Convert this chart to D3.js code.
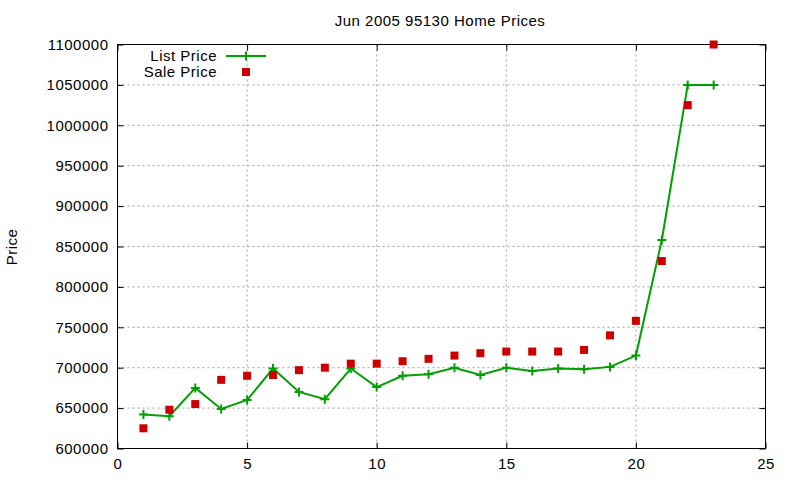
<!DOCTYPE html>
<html>
<head>
<meta charset="utf-8">
<script src="https://cdn.jsdelivr.net/npm/d3@7"></script>
<style>
  body { margin: 0; background: #fff; }
  svg text { font-family: "Liberation Sans", Arial, sans-serif; font-size: 15px; letter-spacing: 0.5px; fill: #000; }
  .grid line { stroke: #a0a0a0; stroke-dasharray: 2,3; stroke-width: 1; }
</style>
</head>
<body>
<svg id="chart" width="800" height="480"></svg>
<script>
const months = d3.range(1, 24)
const listPrice = [642000, 640000, 675000, 649000, 660000, 699000, 670000, 661000, 699000, 676000,
  690000, 692000, 700000, 691000, 700000, 696000, 699000, 698000, 701000, 715000,
  858000, 1050000, 1050000]
const salePrice = [625000, 648000, 655000, 685000, 690000, 691000, 697000, 700000, 705000, 705000,
  708000, 711000, 715000, 718000, 720000, 720000, 720000, 722000, 740000, 758000,
  832000, 1025000, 1100000]
const xTicks = [0, 5, 10, 15, 20, 25]
const yTicks = d3.range(600000, 1100001, 50000)

const svg = d3.select('#chart')
const pLeft = 117.5, pRight = 765.5, pTop = 44.5, pBottom = 448.5

const x = d3.scaleLinear().domain([0, 25]).range([pLeft, pRight])
const y = d3.scaleLinear().domain([600000, 1100000]).range([pBottom, pTop])

const green = '#00a000', red = '#cc0000'

// grid
const grid = svg.append('g').attr('class', 'grid')
grid.selectAll('.gx').data(xTicks.slice(1, -1)).enter().append('line')
  .attr('x1', d => x(d)).attr('x2', d => x(d)).attr('y1', pTop).attr('y2', pBottom)
grid.selectAll('.gy').data(yTicks.slice(1, -1)).enter().append('line')
  .attr('x1', pLeft).attr('x2', pRight).attr('y1', d => y(d)).attr('y2', d => y(d))

// axes, gnuplot style with inward ticks on all sides
const tk = 6
svg.append('g').attr('transform', `translate(0,${pBottom})`)
  .call(d3.axisBottom(x).tickValues(xTicks).tickSize(-tk).tickPadding(10))
svg.append('g').attr('transform', `translate(0,${pTop})`)
  .call(d3.axisTop(x).tickValues(xTicks).tickSize(-tk).tickFormat(''))
svg.append('g').attr('transform', `translate(${pLeft},0)`)
  .call(d3.axisLeft(y).tickValues(yTicks).tickSize(-tk).tickPadding(9).tickFormat(d3.format('d')))
svg.append('g').attr('transform', `translate(${pRight},0)`)
  .call(d3.axisRight(y).tickValues(yTicks).tickSize(-tk).tickFormat(''))
svg.selectAll('.domain').remove()
svg.selectAll('.tick line').attr('stroke', '#000')
svg.selectAll('.tick text').style('font-family', '"Liberation Sans", Arial, sans-serif').style('font-size', '15px')

svg.append('rect').attr('x', pLeft).attr('y', pTop).attr('width', pRight - pLeft).attr('height', pBottom - pTop)
  .attr('fill', 'none').attr('stroke', '#000').attr('stroke-width', 1)

// list price line
const line = d3.line().x((d, i) => x(months[i])).y(d => y(d))
svg.append('path').datum(listPrice).attr('d', line)
  .attr('fill', 'none').attr('stroke', green).attr('stroke-width', 2)

const cross = (g, cx, cy) => {
  g.append('path').attr('d', `M${cx - 4.5},${cy}H${cx + 4.5}M${cx},${cy - 4.5}V${cy + 4.5}`)
    .attr('stroke', green).attr('stroke-width', 2).attr('fill', 'none')
}
const crosses = svg.append('g')
listPrice.forEach((d, i) => cross(crosses, x(months[i]), y(d)))

// sale price squares
svg.append('g').selectAll('rect').data(salePrice).enter().append('rect')
  .attr('x', (d, i) => x(months[i]) - 4).attr('y', d => y(d) - 4)
  .attr('width', 8).attr('height', 8).attr('fill', red)

// title and label
svg.append('text').attr('x', 440).attr('y', 26).attr('text-anchor', 'middle')
  .text('Jun 2005 95130 Home Prices')
svg.append('text').attr('transform', 'translate(17,247) rotate(-90)').attr('text-anchor', 'middle')
  .text('Price')

// legend
const legend = svg.append('g')
legend.append('text').attr('x', 217).attr('y', 61).attr('text-anchor', 'end').text('List Price')
legend.append('line').attr('x1', 226).attr('x2', 266).attr('y1', 56).attr('y2', 56)
  .attr('stroke', green).attr('stroke-width', 2)
cross(legend, 246, 56)
legend.append('text').attr('x', 217).attr('y', 77).attr('text-anchor', 'end').text('Sale Price')
legend.append('rect').attr('x', 242).attr('y', 68).attr('width', 8).attr('height', 8).attr('fill', red)
</script>
</body>
</html>
